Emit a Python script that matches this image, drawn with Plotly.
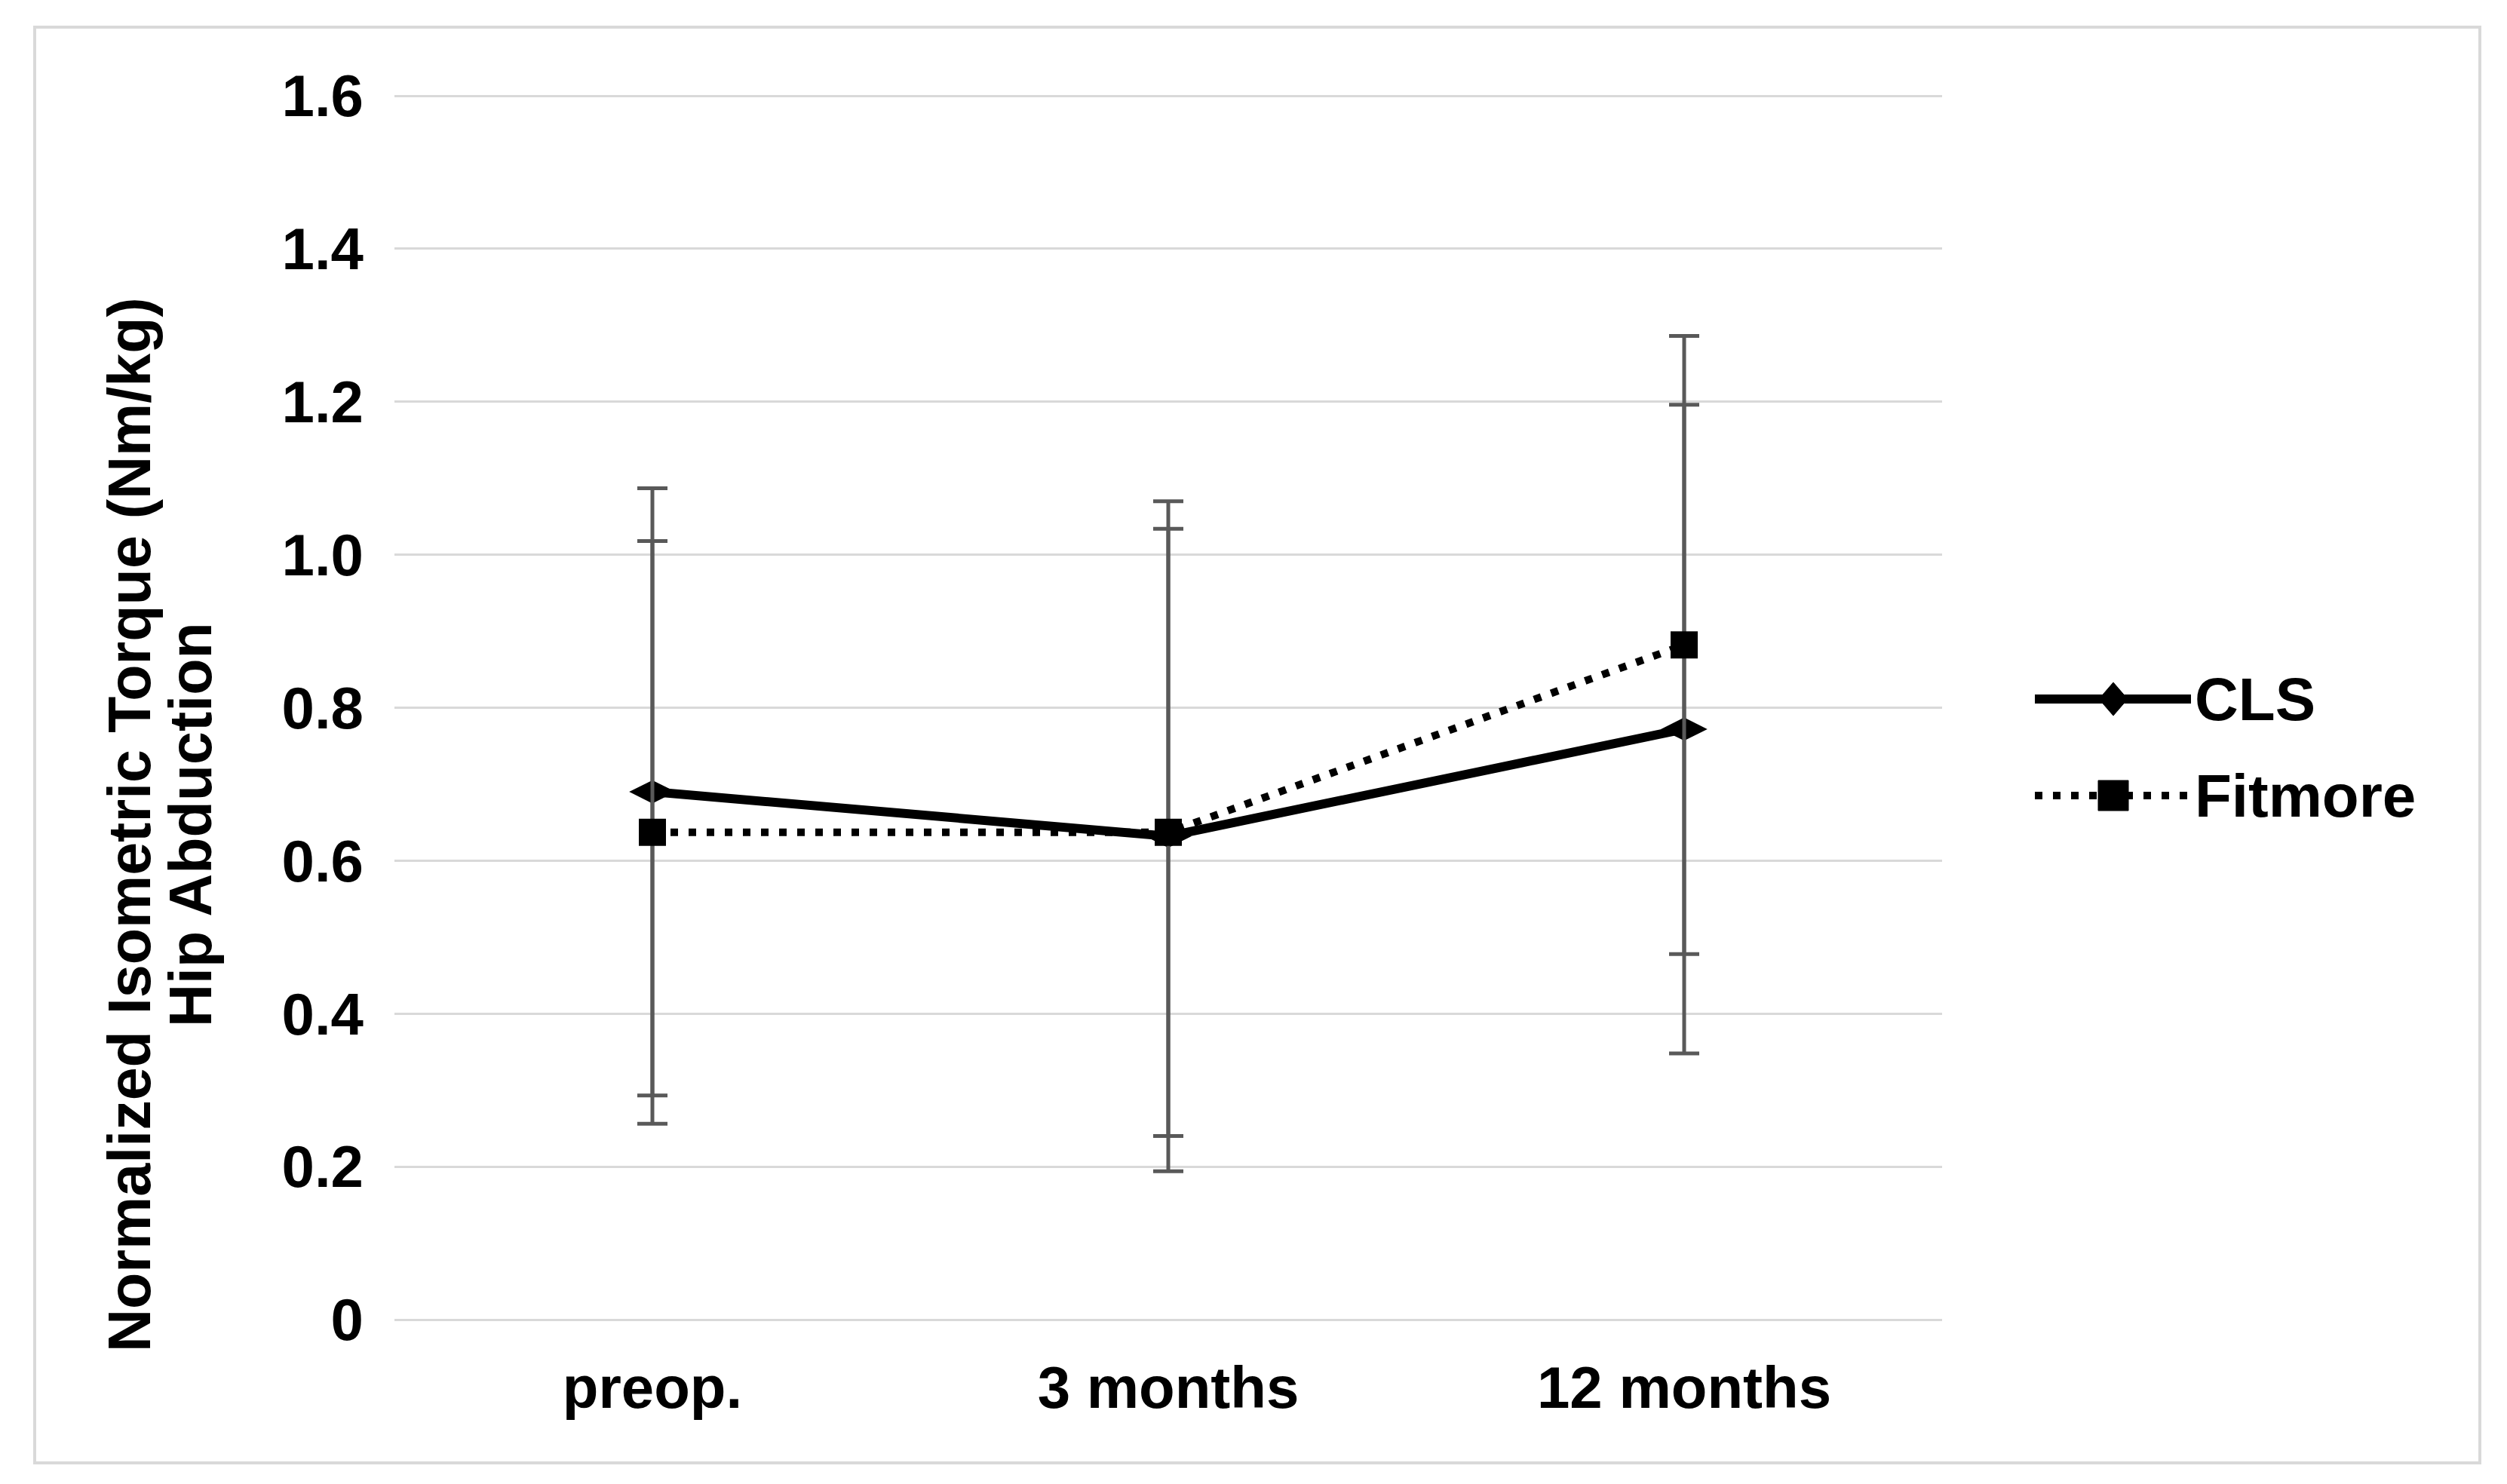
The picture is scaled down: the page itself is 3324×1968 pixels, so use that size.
import plotly.graph_objects as go

# ---- data ----
categories = ["preop.", "3 months", "12 months"]
cls_mean = [0.690, 0.632, 0.772]
cls_sd = [0.397, 0.438, 0.424]
fit_mean = [0.637, 0.637, 0.882]
fit_sd = [0.381, 0.397, 0.404]
ytick_vals = [0, 0.2, 0.4, 0.6, 0.8, 1.0, 1.2, 1.4, 1.6]
ytick_text = ["0", "0.2", "0.4", "0.6", "0.8", "1.0", "1.2", "1.4", "1.6"]
series_names = ["CLS", "Fitmore"]

W, H = 3324, 1968
L, R, T, B = 515, 2567, 117, 1742  # plot area in px
FONT = "Liberation Sans, Arial, sans-serif"
ERR_COLOR = "#595959"
GRID = "#d9d9d9"


def px(x):
    return (x - L) / (R - L)


def py(y):
    return (B - y) / (B - T)


fig = go.Figure()
fig.add_trace(go.Scatter(
    x=categories, y=cls_mean, name=series_names[0], mode="lines+markers",
    line=dict(color="black", width=12),
    marker=dict(symbol="diamond-wide", size=44, color="black"),
    error_y=dict(type="data", array=cls_sd, visible=True, color=ERR_COLOR,
                 thickness=5, width=20),
    showlegend=False,
))
fig.add_trace(go.Scatter(
    x=categories, y=fit_mean, name=series_names[1], mode="lines+markers",
    line=dict(color="black", width=10, dash="10px,14px"),
    marker=dict(symbol="square", size=36, color="black"),
    error_y=dict(type="data", array=fit_sd, visible=True, color=ERR_COLOR,
                 thickness=5, width=20),
    showlegend=False,
))

shapes = []
# outer border
shapes.append(dict(type="rect", xref="paper", yref="paper",
                   x0=px(38), x1=px(3280), y0=py(1932), y1=py(28),
                   line=dict(color=GRID, width=4), layer="below"))

# custom legend
leg_x0, leg_x1, leg_mid = 2690, 2897, 2794
y_cls, y_fit = 919, 1047
shapes.append(dict(type="line", xref="paper", yref="paper",
                   x0=px(leg_x0), x1=px(leg_x1), y0=py(y_cls), y1=py(y_cls),
                   line=dict(color="black", width=12)))
shapes.append(dict(type="line", xref="paper", yref="paper",
                   x0=px(leg_x0), x1=px(leg_x1), y0=py(y_fit), y1=py(y_fit),
                   line=dict(color="black", width=10, dash="10px,14px")))
dx, dy = 19, 22
shapes.append(dict(type="path", xref="paper", yref="paper",
                   path=(f"M {px(leg_mid - dx)} {py(y_cls)} L {px(leg_mid)} {py(y_cls - dy)} "
                         f"L {px(leg_mid + dx)} {py(y_cls)} L {px(leg_mid)} {py(y_cls + dy)} Z"),
                   fillcolor="black", line=dict(color="black", width=1)))
shapes.append(dict(type="rect", xref="paper", yref="paper",
                   x0=px(leg_mid - 20), x1=px(leg_mid + 20),
                   y0=py(y_fit + 20), y1=py(y_fit - 20),
                   fillcolor="black", line=dict(color="black", width=1)))

annotations = [
    dict(xref="paper", yref="paper", x=px(2900), y=py(y_cls), xanchor="left",
         yanchor="middle", text=series_names[0], showarrow=False,
         font=dict(family=FONT, size=80, color="black", weight="bold")),
    dict(xref="paper", yref="paper", x=px(2900), y=py(y_fit), xanchor="left",
         yanchor="middle", text=series_names[1], showarrow=False,
         font=dict(family=FONT, size=80, color="black", weight="bold")),
    dict(xref="paper", yref="paper", x=px(163), y=py(1086), xanchor="center",
         yanchor="middle", textangle=-90, showarrow=False,
         text="Normalized Isometric Torque (Nm/kg)",
         font=dict(family=FONT, size=79, color="black", weight="bold")),
    dict(xref="paper", yref="paper", x=px(244), y=py(1086), xanchor="center",
         yanchor="middle", textangle=-90, showarrow=False,
         text="Hip Abduction",
         font=dict(family=FONT, size=79, color="black", weight="bold")),
]

fig.update_layout(
    width=W, height=H,
    margin=dict(l=L, r=W - R, t=T, b=H - B, pad=0),
    paper_bgcolor="white", plot_bgcolor="white",
    showlegend=False,
    shapes=shapes,
    annotations=annotations,
    xaxis=dict(type="category", categoryorder="array", categoryarray=categories,
               range=[-0.5, 2.5], showgrid=False, showline=False, zeroline=False,
               ticks="", ticklabelstandoff=38,
               tickfont=dict(family=FONT, size=78, color="black", weight="bold")),
    yaxis=dict(range=[0, 1.602], tickmode="array", tickvals=ytick_vals,
               ticktext=ytick_text, showgrid=True, gridcolor=GRID, gridwidth=3,
               zeroline=True, zerolinecolor=GRID, zerolinewidth=3,
               showline=False, ticks="", ticklabelstandoff=40,
               tickfont=dict(family=FONT, size=78, color="black", weight="bold")),
)

fig.write_html("out.html")
